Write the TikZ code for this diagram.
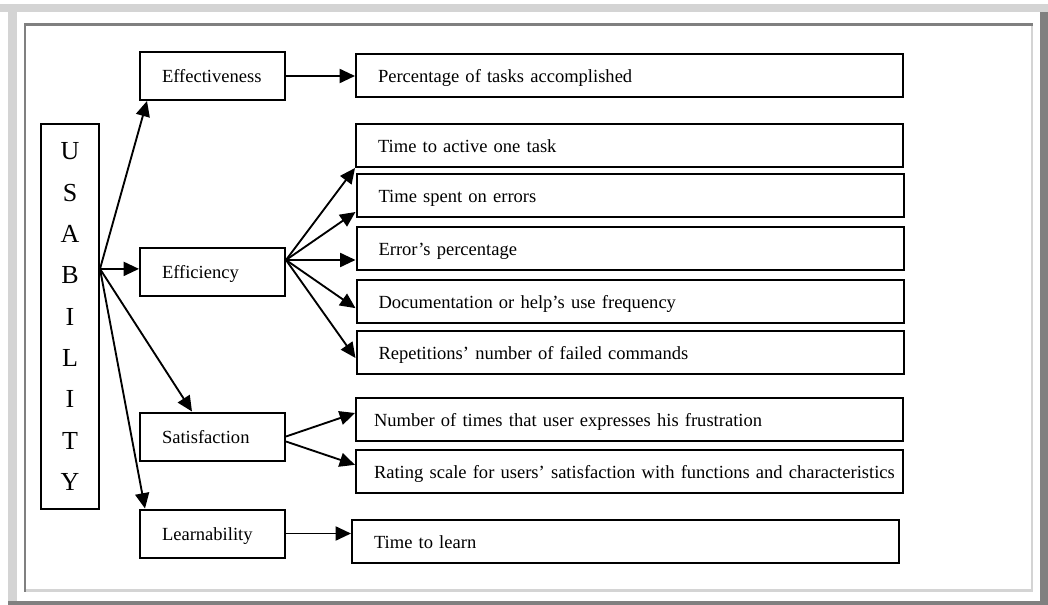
\documentclass[tikz,border=0pt]{standalone}
\usepackage{fontspec}
\setmainfont{Liberation Serif}
\usepackage{xcolor}
\definecolor{frlight}{RGB}{212,212,212}
\definecolor{frdark}{RGB}{128,128,128}
\usepackage{tikz}
\usetikzlibrary{arrows.meta,positioning,calc}

\begin{document}
\begin{tikzpicture}[x=0.75pt, y=-0.75pt,
  ubox/.style={rectangle, draw=black, line width=1.5pt,
               minimum width=43.5pt, minimum height=288.75pt,
               align=center, font=\fontsize{19.5}{31}\selectfont},
  mbox/.style={rectangle, draw=black, line width=1.5pt,
               minimum height=36pt, text width=75.75pt, inner xsep=16.5pt,
               text height=10.5pt, text depth=0pt,
               align=left, font=\fontsize{13.9}{16}\selectfont},
  rbox/.style={rectangle, draw=black, line width=1.5pt,
               minimum height=32.25pt, text width=377.25pt, inner xsep=16.5pt,
               text height=10.5pt, text depth=0pt,
               align=left, font=\fontsize{13.9}{16}\selectfont},
  nbox/.style={rbox, text width=383.25pt, inner xsep=13.5pt},
  farr/.style={-{Triangle[length=11.5pt, width=10.5pt]}, line width=1.4pt}
]
\useasboundingbox (0,0) rectangle (1048,605);

% Frame
\fill[frlight] (0,4) rectangle (1048,12);
\fill[frlight] (8,4) rectangle (17,605);
\fill[frdark]  (1040,12) rectangle (1048,605);
\fill[frdark]  (8,601) rectangle (1048,605);
\fill[frdark]  (24,23) rectangle (1033,26);
\fill[frdark]  (24,23) rectangle (26,592);
\fill[frlight] (1031,26) rectangle (1033,592);
\fill[frlight] (26,589) rectangle (1033,592);

% Usability
\node[ubox] (usab) at (70,316.5) {U\\S\\A\\B\\I\\L\\I\\T\\Y};
\coordinate (hub) at ($(usab.north east)!0.377!(usab.south east)$);

% Attributes
\node[mbox] (eff)  at (212.5,76)    {Effectiveness};
\node[mbox] (effi) at (212.5,272)   {Efficiency};
\node[mbox] (sat)  at (212.5,436.5) {Satisfaction};
\node[mbox] (lrn)  at (212.5,533.5) {Learnability};

% Measures
\node[rbox] (pct) at (629.5,76)    {Percentage of tasks accomplished};
\node[rbox] (tat) at (629.5,145.5) {Time to active one task};
\node[rbox] (tse) at (630,196)     {Time spent on errors};
\node[rbox] (err) at (630,248.5)   {Error’s percentage};
\node[rbox] (doc) at (630,301.5)   {Documentation or help’s use frequency};
\node[rbox] (rep) at (630,353)     {Repetitions’ number of failed commands};
\node[nbox] (num) at (629.5,419)   {Number of times that user expresses his frustration};
\node[nbox] (rat) at (629.5,471.5)
  {\mbox{Rating scale for users’ satisfaction with functions and characteristics}};
\node[rbox] (ttl) at (625.5,541.5) {Time to learn};

% Arrows from usability
\draw[farr] (hub) -- ([xshift=6pt]eff.south west);
\draw[farr] (hub) -- (hub -| effi.west);
\draw[farr] (hub) -- ([xshift=39.75pt]sat.north west);
\draw[farr] (hub) -- ([xshift=4.5pt]lrn.north west);

% Arrows to measures
\coordinate (ef) at ([yshift=9pt]effi.east);
\draw[farr] (eff.east) -- (pct.west);
\draw[farr] (ef) -- (tat.south west);
\draw[farr] (ef) -- ([yshift=-12pt]tse.west);
\draw[farr] (ef) -- (ef -| err.west);
\draw[farr] (ef) -- ([yshift=-5pt]doc.west);
\draw[farr] (ef) -- ([yshift=-3.75pt]rep.west);
\draw[farr] (sat.east) -- ([yshift=4.5pt]num.west);
\draw[farr] ([yshift=-3.75pt]sat.east) -- ([yshift=5pt]rat.west);
\draw[farr] (lrn.east) -- (lrn.east -| ttl.west);
\end{tikzpicture}
\end{document}
